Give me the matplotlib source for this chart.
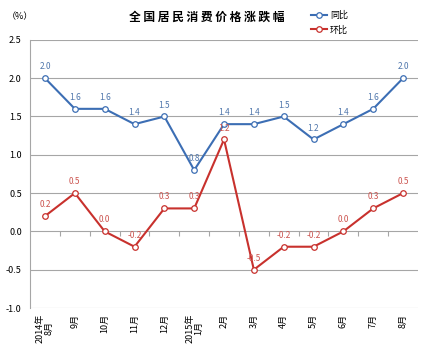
import matplotlib

matplotlib.use("Agg")
import matplotlib.pyplot as plt

plt.rcParams["font.family"] = ["Noto Sans CJK SC", "DejaVu Sans"]

months = ["2014年\n8月", "9月", "10月", "11月", "12月", "2015年\n1月", "2月",
          "3月", "4月", "5月", "6月", "7月", "8月"]
yoy = [2.0, 1.6, 1.6, 1.4, 1.5, 0.8, 1.4, 1.4, 1.5, 1.2, 1.4, 1.6, 2.0]
mom = [0.2, 0.5, 0.0, -0.2, 0.3, 0.3, 1.2, -0.5, -0.2, -0.2, 0.0, 0.3, 0.5]
yticks = [-1.0, -0.5, 0.0, 0.5, 1.0, 1.5, 2.0, 2.5]

BLUE = "#3C6EB4"
RED = "#C8312D"
GRID = "#A6A6A6"

fig = plt.figure(figsize=(4.3, 3.5), dpi=100)
ax = fig.add_axes([0.070, 0.120, 0.902, 0.766])

x = list(range(len(months)))
ax.plot(x, yoy, color=BLUE, lw=1.5, marker="o", ms=4, mfc="white", mec=BLUE, mew=0.9, label="同比", zorder=3)
ax.plot(x, mom, color=RED, lw=1.5, marker="o", ms=4, mfc="white", mec=RED, mew=0.9, label="环比", zorder=3)

for xi, v in zip(x, yoy):
    ax.annotate(f"{v:.1f}", (xi, v), xytext=(0, 5), textcoords="offset points",
                ha="center", va="bottom", fontsize=6, color="#5077AC")
for xi, v in zip(x, mom):
    ax.annotate(f"{v:.1f}", (xi, v), xytext=(0, 5), textcoords="offset points",
                ha="center", va="bottom", fontsize=6, color="#CC5550")

ax.set_xlim(-0.5, len(months) - 0.5)
ax.set_ylim(-1.0, 2.5)
ax.set_yticks(yticks)
ax.set_yticklabels([f"{t:.1f}" for t in yticks], fontsize=6.5)
ax.yaxis.grid(True, color=GRID, lw=0.8)
ax.set_axisbelow(True)
ax.tick_params(axis="y", length=0, pad=6)

ax.set_xticks(x)
ax.set_xticklabels(months, rotation=90, fontsize=6.5, va="top", ha="center", linespacing=1.0)
ax.tick_params(axis="x", length=0, pad=4)

# category boundary ticks on the zero line
bounds = [i + 0.5 for i in range(len(months) - 1)]
ax.vlines(bounds, -0.06, 0, color=GRID, lw=0.8)

for side in ("top", "right", "bottom"):
    ax.spines[side].set_visible(False)
ax.spines["left"].set_color(GRID)

fig.text(0.48, 0.952, " ".join("全国居民消费价格涨跌幅"), ha="center", va="center",
         fontsize=8.5, fontweight="bold")
fig.text(0.047, 0.952, "（%）", ha="center", va="center", fontsize=6.5)
ax.legend(loc="lower left", bbox_to_anchor=(0.71, 1.0), frameon=False, fontsize=6.5,
          handlelength=1.8, handletextpad=0.3, labelspacing=0.6, borderaxespad=0.2)

fig.savefig("out.png", dpi=100)
